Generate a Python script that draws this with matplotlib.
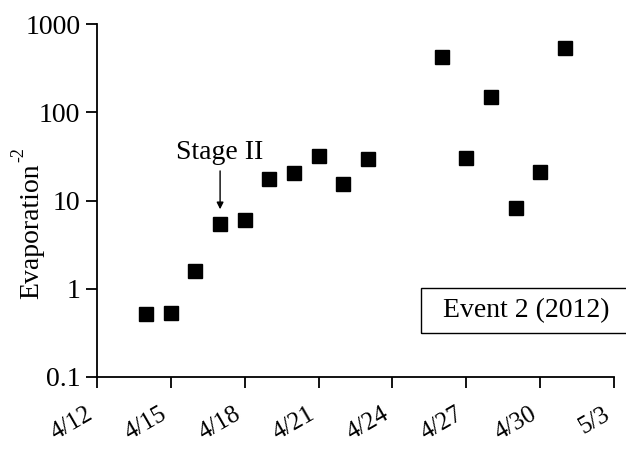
import matplotlib
matplotlib.use("Agg")
import matplotlib.pyplot as plt
from matplotlib.patches import Rectangle
import datetime as dt

plt.rcParams['font.family'] = ['Liberation Serif', 'DejaVu Serif']

dates = ["2012-04-14", "2012-04-15", "2012-04-16", "2012-04-17", "2012-04-18",
         "2012-04-19", "2012-04-20", "2012-04-21", "2012-04-22", "2012-04-23",
         "2012-04-26", "2012-04-27", "2012-04-28", "2012-04-29", "2012-04-30",
         "2012-05-01"]
values = [0.52, 0.53, 1.6, 5.4, 6.0, 17.4, 20.7, 31.9, 15.2, 29.8,
          420, 30.5, 147, 8.2, 21, 538]
tick_dates = ["2012-04-12", "2012-04-15", "2012-04-18", "2012-04-21",
              "2012-04-24", "2012-04-27", "2012-04-30", "2012-05-03"]
tick_labels = ["4/12", "4/15", "4/18", "4/21", "4/24", "4/27", "4/30", "5/3"]
y_ticks = [0.1, 1, 10, 100, 1000]
y_labels = ["0.1", "1", "10", "100", "1000"]

to_dt = lambda s: dt.datetime.strptime(s, "%Y-%m-%d")
x = [to_dt(d) for d in dates]
xt = [to_dt(d) for d in tick_dates]

W, H = 626, 451
fig = plt.figure(figsize=(W / 100, H / 100), dpi=100)
l, r, b, t = 97, 614, 377, 24
ax = fig.add_axes([l / W, 1 - b / H, (r - l) / W, (b - t) / H])

ax.plot(x, values, linestyle='none', marker='s', markersize=10.5, color='black')
ax.set_yscale('log')
ax.set_ylim(0.1, 1000)
ax.set_xlim(xt[0], xt[-1])
ax.set_yticks(y_ticks)
ax.set_yticklabels(y_labels)
ax.yaxis.set_minor_locator(matplotlib.ticker.NullLocator())
ax.set_xticks(xt)
ax.set_xticklabels(tick_labels, rotation=30, ha='right', va='top', fontsize=18)
ax.tick_params(axis='both', direction='out', length=8, width=1.3)
ax.tick_params(axis='y', pad=4, labelsize=20)
ax.tick_params(axis='x', pad=11)
for s in ['top', 'right']:
    ax.spines[s].set_visible(False)
for s in ['left', 'bottom']:
    ax.spines[s].set_linewidth(1.3)

# y-axis label with superscript
fig.text(32 / W, 1 - 231 / H, 'Evaporation', rotation=90, ha='center', va='center', fontsize=20)
fig.text(19 / W, 1 - 155 / H, '-2', rotation=90, ha='center', va='center', fontsize=13)

ax.annotate('Stage II', xy=(x[3], 7.4), xytext=(x[3], 25),
            ha='center', va='bottom', fontsize=20,
            arrowprops=dict(arrowstyle='-|>', color='black', lw=1, mutation_scale=10))

# legend-like box
fx0, fy0, fx1, fy1 = 421 / W, 1 - 333 / H, 632 / W, 1 - 288 / H
fig.patches.append(Rectangle((fx0, fy0), fx1 - fx0, fy1 - fy0, transform=fig.transFigure,
                             fill=False, edgecolor='black', lw=1))
fig.text(526.5 / W, 1 - 311 / H, 'Event 2 (2012)', ha='center', va='center', fontsize=20)

fig.savefig('out.png', dpi=100)
